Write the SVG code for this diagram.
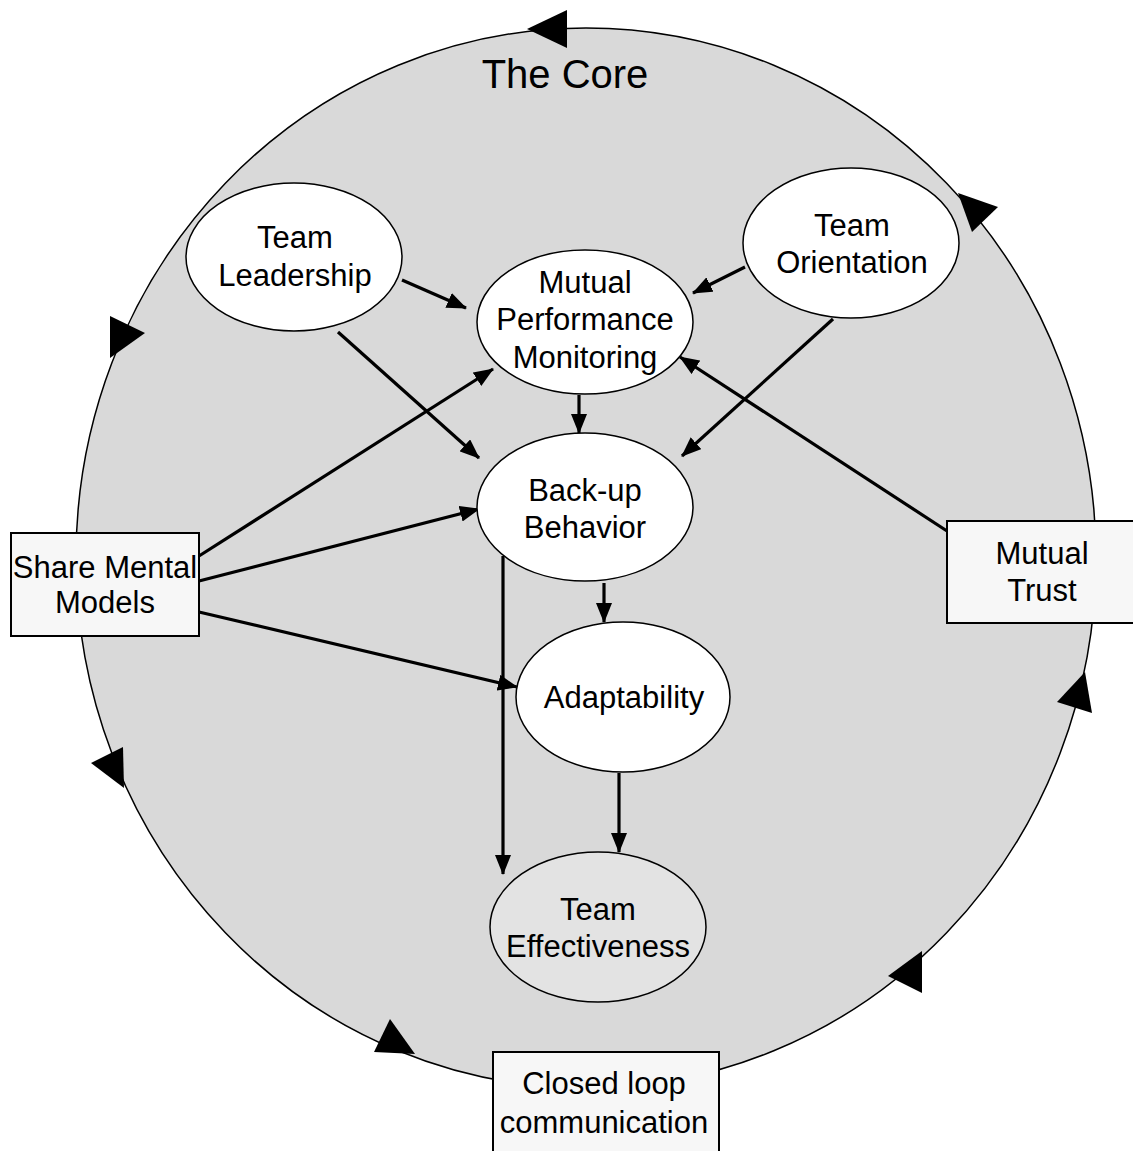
<svg xmlns="http://www.w3.org/2000/svg" width="1133" height="1151" viewBox="0 0 1133 1151">
<style>
text{font-family:"Liberation Sans",Arial,sans-serif;font-size:31px;fill:#000;text-anchor:middle}
.node{fill:#fff;stroke:#000;stroke-width:1.5}
.box{fill:#f7f7f7;stroke:#000;stroke-width:2}
.conn{stroke:#000;stroke-width:3.2;fill:none;marker-end:url(#ah)}
.tri{fill:#000}
</style>
<defs>
<marker id="ah" markerUnits="userSpaceOnUse" markerWidth="20" markerHeight="16" refX="19" refY="8" orient="auto">
<path d="M0,0 L20,8 L0,16 z" fill="#000"/>
</marker>
</defs>
<rect width="1133" height="1151" fill="#fff"/>
<g id="core">
<ellipse cx="586" cy="558" rx="510" ry="530" fill="#d9d9d9" stroke="#000" stroke-width="1.5"/>
<polygon class="tri" points="527,29 567,10 567,48"/>
<polygon class="tri" points="110,316 110,358 145,333"/>
<polygon class="tri" points="958,193 998,207 972,232"/>
<polygon class="tri" points="1085,672 1057,702 1092,713"/>
<polygon class="tri" points="123,747 91,763 124,788"/>
<polygon class="tri" points="390,1019 374,1052 415,1054"/>
<polygon class="tri" points="922,951 888,976 922,993"/>
<text x="565" y="88" style="font-size:40px">The Core</text>
</g>
<g id="connectors">
<line class="conn" x1="402" y1="280" x2="466" y2="308"/>
<line class="conn" x1="745" y1="267" x2="693" y2="293"/>
<line class="conn" x1="338" y1="332" x2="479" y2="458"/>
<line class="conn" x1="833" y1="319" x2="682" y2="456"/>
<line class="conn" x1="199" y1="556" x2="493" y2="369"/>
<line class="conn" x1="199" y1="581" x2="479" y2="509"/>
<line class="conn" x1="199" y1="612" x2="517" y2="687"/>
<line class="conn" x1="947" y1="531" x2="680" y2="357"/>
<line class="conn" x1="579" y1="395" x2="579" y2="433"/>
<line class="conn" x1="604" y1="583" x2="604" y2="622"/>
<line class="conn" x1="503" y1="556" x2="503" y2="874"/>
<line class="conn" x1="619" y1="773" x2="619" y2="852"/>
</g>
<g id="team-leadership">
<ellipse class="node" cx="294" cy="257" rx="108" ry="74"/>
<text x="295" y="248">Team</text>
<text x="295" y="286">Leadership</text>
</g>
<g id="team-orientation">
<ellipse class="node" cx="851" cy="243" rx="108" ry="75"/>
<text x="852" y="236">Team</text>
<text x="852" y="273">Orientation</text>
</g>
<g id="mpm">
<ellipse class="node" cx="585" cy="322" rx="108" ry="72"/>
<text x="585" y="293">Mutual</text>
<text x="585" y="330">Performance</text>
<text x="585" y="368">Monitoring</text>
</g>
<g id="backup">
<ellipse class="node" cx="585" cy="507" rx="108" ry="74"/>
<text x="585" y="501">Back-up</text>
<text x="585" y="538">Behavior</text>
</g>
<g id="adaptability">
<ellipse class="node" cx="623" cy="697" rx="107" ry="75"/>
<text x="624" y="708">Adaptability</text>
</g>
<g id="team-effectiveness">
<ellipse cx="598" cy="927" rx="108" ry="75" fill="#e3e3e3" stroke="#000" stroke-width="1.5"/>
<text x="598" y="920">Team</text>
<text x="598" y="957">Effectiveness</text>
</g>
<g id="share-mental-models">
<rect class="box" x="11" y="533" width="188" height="103"/>
<text x="105" y="578">Share Mental</text>
<text x="105" y="613">Models</text>
</g>
<g id="mutual-trust">
<rect class="box" x="947" y="521" width="190" height="102"/>
<text x="1042" y="564">Mutual</text>
<text x="1042" y="601">Trust</text>
</g>
<g id="closed-loop">
<rect class="box" x="493" y="1052" width="226" height="110"/>
<text x="604" y="1094">Closed loop</text>
<text x="604" y="1133">communication</text>
</g>
</svg>
